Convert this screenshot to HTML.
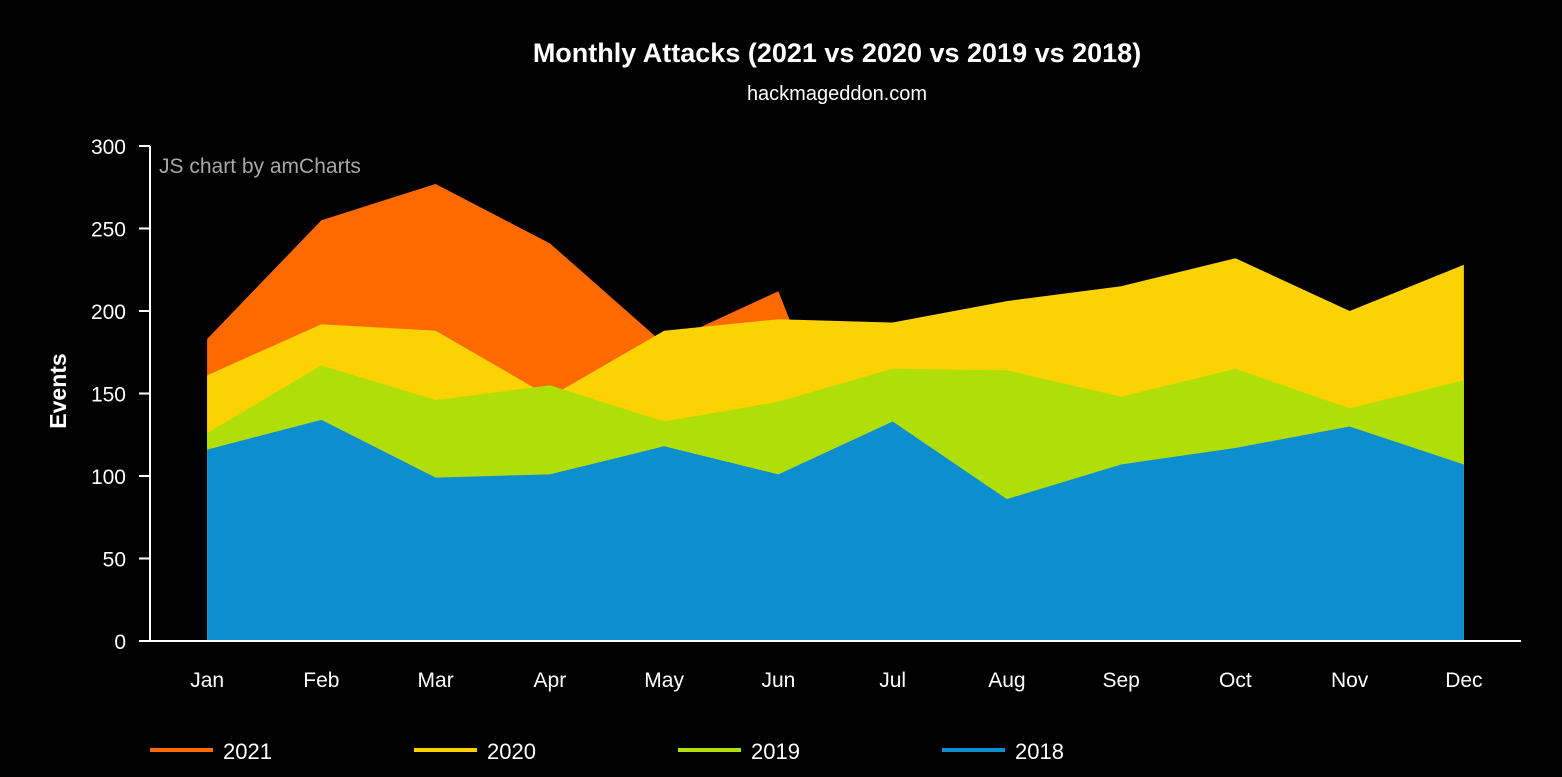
<!DOCTYPE html>
<html><head><meta charset="utf-8"><style>
html,body{margin:0;padding:0;background:#000;}
body{width:1562px;height:772px;overflow:hidden;font-family:"Liberation Sans",Arial,sans-serif;}
svg text{font-family:"Liberation Sans",Arial,sans-serif;}
</style></head><body>
<svg id="chart" width="1562" height="772" xmlns="http://www.w3.org/2000/svg">
<rect width="1562" height="772" fill="#000"/>
<text x="837" y="62" fill="#fff" font-size="27" font-weight="bold" text-anchor="middle">Monthly Attacks (2021 vs 2020 vs 2019 vs 2018)</text>
<text x="837" y="100" fill="#fff" font-size="20" text-anchor="middle">hackmageddon.com</text>
<g id="areas"></g>
<g id="axes"></g>
<text x="159" y="173" fill="#a8a8a8" font-size="21">JS chart by amCharts</text>
<text transform="translate(66,391) rotate(-90)" fill="#fff" font-size="23" font-weight="bold" text-anchor="middle">Events</text>
<g id="legend"></g>
</svg>
<script>
const categories=["Jan","Feb","Mar","Apr","May","Jun","Jul","Aug","Sep","Oct","Nov","Dec"];
const yTicks=[0,50,100,150,200,250,300];
const s2021=[183,255,277,241,180,212,36,null,null,null,null,null];
const s2020=[161,192,188,148,188,195,193,206,215,232,200,228];
const s2019=[126,167,146,155,133,145,165,164,148,165,141,158];
const s2018=[116,134,99,101,118,101,133,86,107,117,130,107];
const seriesNames=["2021","2020","2019","2018"];
const seriesColors=["#ff6a00","#fcd202","#b0de09","#0d8ecf"];
const seriesData=[s2021,s2020,s2019,s2018];
const L=150,R=1521,T=146,B=641,YMAX=300;
const NS="http://www.w3.org/2000/svg";
const step=(R-L)/categories.length;
function xs(i){return L+step*(i+0.5);}
function ys(v){return B-(v/YMAX)*(B-T);}
function mk(t,a){const e=document.createElementNS(NS,t);for(const k in a)e.setAttribute(k,a[k]);return e;}
const areas=document.getElementById('areas');
seriesData.forEach((d,si)=>{
  const pts=[];d.forEach((v,i)=>{if(v!==null)pts.push([xs(i),ys(v)]);});
  let p="M"+pts[0][0]+","+B;pts.forEach(q=>p+=" L"+q[0]+","+q[1]);p+=" L"+pts[pts.length-1][0]+","+B+" Z";
  const e=mk('path',{d:p,fill:seriesColors[si]});
  
  
  areas.appendChild(e);
});
const ax=document.getElementById('axes');
const yl=mk('line',{x1:L,y1:T,x2:L,y2:B,stroke:'#fff','stroke-width':2});


ax.appendChild(yl);
const xl=mk('line',{x1:L,y1:B,x2:R,y2:B,stroke:'#fff','stroke-width':2});


ax.appendChild(xl);
yTicks.forEach(v=>{
  const tk=mk('line',{x1:L-11,y1:ys(v),x2:L,y2:ys(v),stroke:'#fff','stroke-width':2});
  
  
  ax.appendChild(tk);
  const t=mk('text',{x:L-24,y:ys(v)+8,fill:'#fff','font-size':21,'text-anchor':'end'});
  t.textContent=v;
  
  
  ax.appendChild(t);
});
categories.forEach((c,i)=>{
  const t=mk('text',{x:xs(i),y:687,fill:'#fff','font-size':21,'text-anchor':'middle'});
  t.textContent=c;
  
  
  ax.appendChild(t);
});
const lg=document.getElementById('legend');
const lx=[150,414,678,942];
seriesNames.forEach((n,i)=>{
  const g=mk('g',{});
  
  
  g.appendChild(mk('line',{x1:lx[i],y1:750,x2:lx[i]+63,y2:750,stroke:seriesColors[i],'stroke-width':4}));
  const t=mk('text',{x:lx[i]+73,y:759,fill:'#fff','font-size':22});
  t.textContent=n;g.appendChild(t);
  lg.appendChild(g);
});
</script>
</body></html>
